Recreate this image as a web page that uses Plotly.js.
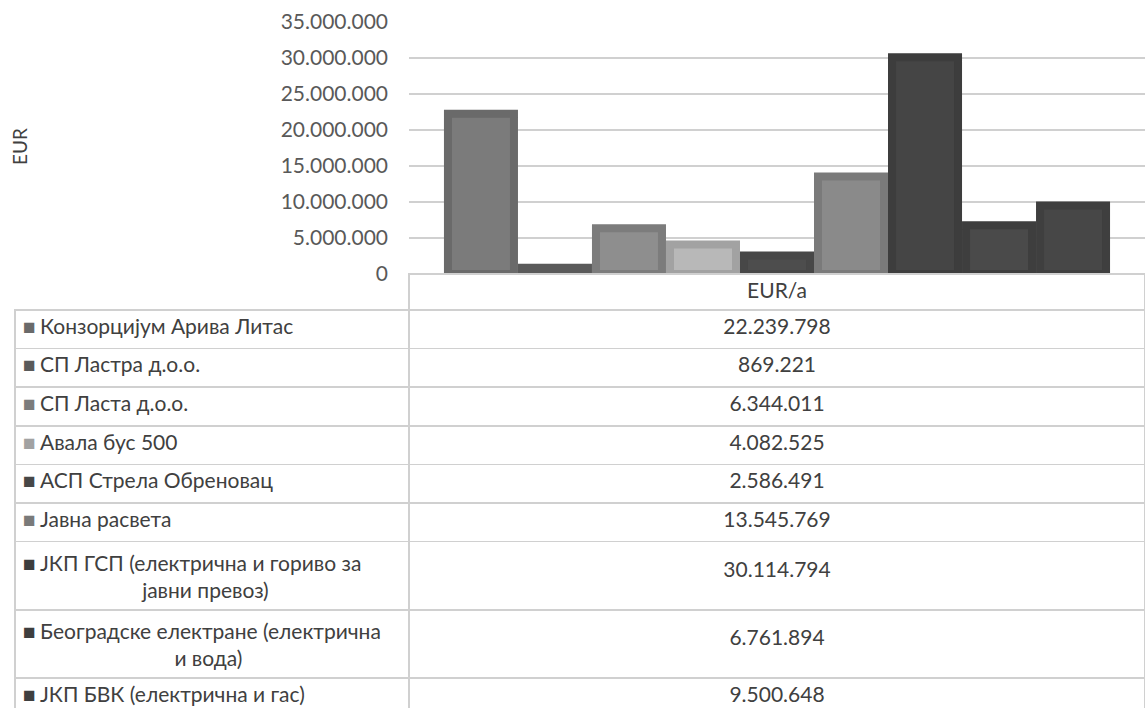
<!DOCTYPE html>
<html><head><meta charset="utf-8">
<script src="https://cdn.plot.ly/plotly-3.0.1.min.js"></script>
<style>html,body{margin:0;padding:0;background:#fff;} #chart{width:1145px;height:709px;}</style>
</head><body><div id="chart"></div>
<script>
// ---- data ----
const category = ['EUR/a'];
const seriesNames = [
  'Конзорцијум Арива Литас',
  'СП Ластра д.о.о.',
  'СП Ласта д.о.о.',
  'Авала бус 500',
  'АСП Стрела Обреновац',
  'Јавна расвета',
  'ЈКП ГСП (електрична и гориво за јавни превоз)',
  'Београдске електране (електрична и вода)',
  'ЈКП БВК (електрична и гас)'
];
const seriesLines = [
  ['Конзорцијум Арива Литас'],
  ['СП Ластра д.о.о.'],
  ['СП Ласта д.о.о.'],
  ['Авала бус 500'],
  ['АСП Стрела Обреновац'],
  ['Јавна расвета'],
  ['ЈКП ГСП (електрична и гориво за', 'јавни превоз)'],
  ['Београдске електране (електрична', 'и вода)'],
  ['ЈКП БВК (електрична и гас)']
];
const values = [22239798, 869221, 6344011, 4082525, 2586491, 13545769, 30114794, 6761894, 9500648];
const yTickVals = [0, 5000000, 10000000, 15000000, 20000000, 25000000, 30000000, 35000000];
const yTickText = ['0', '5.000.000', '10.000.000', '15.000.000', '20.000.000', '25.000.000', '30.000.000', '35.000.000'];
const yTitle = 'EUR';

// ---- styles ----
const fillColors = ['#7b7b7b', '#606060', '#8e8e8e', '#b8b8b8', '#4d4d4d', '#8a8a8a', '#454545', '#4a4a4a', '#474747'];
const edgeColors = ['#6a6a6a', '#5a5a5a', '#7c7c7c', '#a2a2a2', '#474747', '#7a7a7a', '#3d3d3d', '#3e3e3e', '#3f3f3f'];
const FONT = 'Lato, "Open Sans", sans-serif';
const FS = 21;
const W = 1145, H = 709;
const plotLeft = 409, plotTop = 22, plotBottom = 274, tableLeft = 15, labelLeft = 32;
const textColor = '#404040';
const gridColor = '#d0d0d0';
const CLEAR = 'rgba(0,0,0,0)';
const NB = '\u00a0';
const KEY = '■';

function fmt(v) { return String(v).replace(/\B(?=(\d{3})+(?!\d))/g, '.'); }

const ctx = document.createElement('canvas').getContext('2d');
ctx.font = FS + 'px Lato';
const nbspW = ctx.measureText(NB).width || FS * 0.2;
const leftCenter = (tableLeft + plotLeft) / 2 - 4;
function nb(s) { return s.replace(/ /g, NB); }
// label text: no regular spaces so Plotly keeps the reference's own line breaks;
// continuation lines are centred in the column like in the reference
function labelCell(i) {
  const lines = seriesLines[i];
  let out = nb(lines[0]);
  for (let k = 1; k < lines.length; k++) {
    const w = ctx.measureText(lines[k]).width;
    const padPx = leftCenter - w / 2 - (labelLeft + 8);
    const n = Math.max(0, Math.round(padPx / nbspW));
    out += '<br>' + NB.repeat(n) + nb(lines[k]);
  }
  return out;
}
function keyCell(i) {
  return KEY + (seriesLines[i].length > 1 ? '<br>' + NB : '');
}
// values sit in the middle of the taller two-line rows
function valueCell(i) {
  return (seriesLines[i].length > 1 ? '<br>' : '') + fmt(values[i]);
}

const traces = seriesNames.map((name, i) => ({
  type: 'bar',
  name: name,
  x: category,
  y: [values[i]],
  marker: { color: fillColors[i], line: { color: edgeColors[i], width: 8 } },
  showlegend: false,
  hoverinfo: 'none',
  cliponaxis: true
}));

const tableDomainY = [0, 1 - plotBottom / H];
// left column frame with the legend keys (coloured squares)
traces.push({
  type: 'table',
  domain: { x: [tableLeft / W, plotLeft / W], y: tableDomainY },
  columnwidth: [plotLeft - tableLeft],
  header: {
    values: [['']],
    height: 36,
    fill: { color: CLEAR },
    line: { color: CLEAR, width: 0 },
    font: { family: FONT, size: FS, color: textColor }
  },
  cells: {
    values: [seriesNames.map((_, i) => keyCell(i))],
    align: 'left',
    height: 38.6,
    fill: { color: '#ffffff' },
    line: { color: gridColor, width: 1.5 },
    font: { family: FONT, size: FS, color: [edgeColors] }
  }
});
// series names + values
traces.push({
  type: 'table',
  domain: { x: [labelLeft / W, 1], y: tableDomainY },
  columnwidth: [plotLeft - labelLeft, W - plotLeft],
  header: {
    values: [[''], [category[0]]],
    align: ['left', 'center'],
    height: 36,
    fill: { color: [CLEAR, '#ffffff'] },
    line: { color: [CLEAR, gridColor], width: 1.5 },
    font: { family: FONT, size: FS, color: textColor }
  },
  cells: {
    values: [seriesNames.map((_, i) => labelCell(i)), values.map((_, i) => valueCell(i))],
    align: ['left', 'center'],
    height: 38.6,
    fill: { color: [CLEAR, '#ffffff'] },
    line: { color: [CLEAR, gridColor], width: 1.5 },
    font: { family: FONT, size: FS, color: textColor }
  }
});

const layout = {
  width: W, height: H,
  margin: { l: 0, r: 0, t: 0, b: 0 },
  paper_bgcolor: '#ffffff', plot_bgcolor: '#ffffff',
  separators: ',.',
  barmode: 'group',
  bargap: 0.095,
  bargroupgap: 0.108,
  font: { family: FONT, size: FS, color: '#595959' },
  xaxis: {
    domain: [plotLeft / W, 1],
    type: 'category',
    showticklabels: false, showgrid: false, showline: false, zeroline: false, ticks: ''
  },
  yaxis: {
    domain: [1 - plotBottom / H, 1 - plotTop / H],
    range: [0, 35000000],
    tickvals: yTickVals, ticktext: yTickText,
    tickfont: { family: FONT, size: FS, color: '#595959' },
    ticks: '', ticklabelstandoff: 20,
    showgrid: true, gridcolor: gridColor, gridwidth: 1.5,
    zeroline: true, zerolinecolor: gridColor, zerolinewidth: 1.5,
    showline: false, fixedrange: true
  },
  annotations: [{
    text: yTitle, xref: 'paper', yref: 'paper',
    x: 19 / W, y: 1 - 147 / H, xanchor: 'center', yanchor: 'middle',
    textangle: -90, showarrow: false,
    font: { family: FONT, size: 19, color: '#404040' }
  }]
};

Plotly.newPlot('chart', traces, layout, { displayModeBar: false, staticPlot: true });
</script>
</body></html>
